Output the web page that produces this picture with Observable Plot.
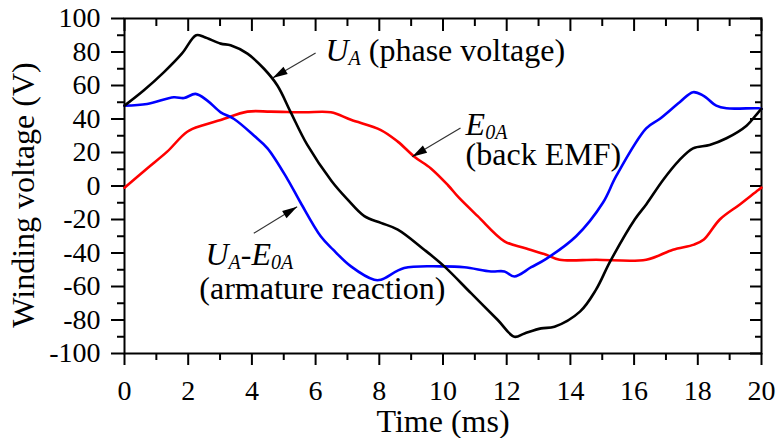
<!DOCTYPE html>
<html><head><meta charset="utf-8">
<script src="https://cdn.jsdelivr.net/npm/d3@7"></script>
<script src="https://cdn.jsdelivr.net/npm/@observablehq/plot@0.6"></script>
<style>
html,body{margin:0;padding:0;background:#fff}
svg{display:block}
</style>
</head><body><div id="chart"></div>
<script>
// ---- data ----
const timeUA = [0, 0.6, 1.24, 1.8, 2.25, 2.5, 3.02, 3.33, 3.86, 4.38, 4.8, 5.22, 5.74, 6.5, 7.0, 7.53, 8.05, 8.58, 9.41, 10.04, 10.88, 11.72, 12.24, 12.56, 13.08, 13.5, 14.3, 14.8, 15.25, 16.02, 16.38, 16.91, 17.4, 17.85, 18.37, 18.9, 19.53, 19.9, 20];
const voltUA = [48, 57, 68, 79, 90, 89, 85, 84, 79, 70, 60, 44, 24.5, 3, -8, -18, -22, -26, -38, -48, -64, -80, -90, -88, -85, -84, -75, -62, -45, -20, -11, 3.6, 15, 22.5, 24.5, 28.5, 36, 44, 46];

const timeDiff = [0, 0.71, 1.55, 1.87, 2.23, 2.6, 3.02, 3.44, 4.07, 4.49, 5.12, 5.53, 6.16, 6.55, 7.11, 7.84, 8.05, 8.78, 9.94, 10.67, 11.51, 11.93, 12.24, 12.77, 13.24, 14.18, 15.02, 15.44, 16.38, 16.8, 17.43, 17.85, 18.17, 18.58, 18.9, 19.9, 20];
const voltDiff = [48, 49, 53, 52.5, 55, 51, 44, 40, 30, 22.5, 4, -10, -30, -38, -48, -56, -56, -49, -48, -48.5, -51, -51, -54, -48.5, -43.5, -30, -10, 6, 34.4, 40, 50, 56, 54, 48, 46.4, 46.4, 46];

const timeEMF = [0, 0.71, 1.34, 1.97, 2.49, 3.02, 3.86, 4.59, 5.64, 6.48, 7.11, 8.05, 8.58, 9.1, 9.62, 10.15, 10.5, 11.09, 11.93, 12.56, 13.24, 13.66, 14.81, 16.38, 17.22, 17.88, 18.19, 18.69, 19.32, 19.9, 20];
const voltEMF = [-1, 10.5, 20.5, 32.4, 36.4, 39.4, 44.4, 44.4, 44, 44, 39.5, 33.4, 26.5, 17.5, 10.5, 0.6, -7, -18, -33, -37, -41, -44, -44, -44, -38, -35, -32, -20, -11, -2.4, -1];

const xMajorTicks = [0, 2, 4, 6, 8, 10, 12, 14, 16, 18, 20];
const xMinorTicks = [1, 3, 5, 7, 9, 11, 13, 15, 17, 19];
const yMajorTicks = [-100, -80, -60, -40, -20, 0, 20, 40, 60, 80, 100];
const yMinorTicks = [-90, -70, -50, -30, -10, 10, 30, 50, 70, 90];

const labelTexts = ["U_A (phase voltage)", "E_0A", "(back EMF)", "U_A-E_0A", "(armature reaction)"];
const labelTime = [6.31, 10.71, 10.71, 2.54, 2.35];
const labelVolt = [81, 36.4, 18.5, -41.2, -61.2];

const arrowFromT = [6.0, 10.55, 4.06];
const arrowFromV = [79.4, 34.6, -28.2];
const arrowToT = [4.65, 9.03, 5.42];
const arrowToV = [64.5, 17.5, -12.4];

// ---- build ----
const serif = "'Liberation Serif', 'Times New Roman', 'DejaVu Serif', serif";
const W = 778, H = 438, mL = 124, mR = 17, mT = 18, mB = 85;
const xs = d3.scaleLinear([0, 20], [mL, W - mR]);
const ys = d3.scaleLinear([-100, 100], [H - mB, mT]);

const series = (t, v) => t.map((d, i) => ({t: d, v: v[i]}));
const arrows = arrowFromT.map((d, i) => ({x1: d, y1: arrowFromV[i], x2: arrowToT[i], y2: arrowToV[i]}));
const arrowAngle = arrows.map(a => {
  const dx = xs(a.x2) - xs(a.x1), dy = ys(a.y2) - ys(a.y1);
  return Math.atan2(dx, -dy) * 180 / Math.PI;
});
const headSymbol = {draw(ctx) { ctx.moveTo(0, 0); ctx.lineTo(-4.2, 15); ctx.lineTo(4.2, 15); ctx.closePath(); }};
const labels = labelTexts.map((s, i) => ({s, t: labelTime[i], v: labelVolt[i]}));
const fmt = d => String(d);
const tickOnly = {tickFormat: null, fill: "none", label: null, strokeWidth: 2};

const chart = Plot.plot({
  width: W, height: H,
  marginLeft: mL, marginRight: mR, marginTop: mT, marginBottom: mB,
  style: {fontFamily: serif, fontSize: "28px", color: "#000", background: "#fff", overflow: "visible"},
  x: {domain: [0, 20]},
  y: {domain: [-100, 100]},
  marks: [
    Plot.axisX(xMajorTicks, {anchor: "bottom", tickSize: 12, tickPadding: 15, tickFormat: fmt, label: null, strokeWidth: 2, fontSize: 28}),
    Plot.axisX(xMinorTicks, {anchor: "bottom", tickSize: 7, ...tickOnly}),
    Plot.axisX(xMajorTicks, {anchor: "top", tickSize: -12, ...tickOnly}),
    Plot.axisX(xMinorTicks, {anchor: "top", tickSize: -7, ...tickOnly}),
    Plot.axisY(yMajorTicks, {anchor: "left", tickSize: 13, tickPadding: 11, tickFormat: fmt, label: null, strokeWidth: 2, fontSize: 28}),
    Plot.axisY(yMinorTicks, {anchor: "left", tickSize: 7, ...tickOnly}),
    Plot.axisY(yMajorTicks, {anchor: "right", tickSize: -12, ...tickOnly}),
    Plot.axisY(yMinorTicks, {anchor: "right", tickSize: -7, ...tickOnly}),
    Plot.frame({stroke: "#000", strokeWidth: 2}),
    Plot.line(series(timeEMF, voltEMF), {x: "t", y: "v", stroke: "#ff0000", strokeWidth: 2.6, curve: "catmull-rom"}),
    Plot.line(series(timeDiff, voltDiff), {x: "t", y: "v", stroke: "#0000ff", strokeWidth: 2.6, curve: "catmull-rom"}),
    Plot.line(series(timeUA, voltUA), {x: "t", y: "v", stroke: "#000", strokeWidth: 2.6, curve: "catmull-rom"}),
    Plot.link(arrows, {x1: "x1", y1: "y1", x2: "x2", y2: "y2", stroke: "#333", strokeWidth: 1.2}),
    Plot.dot(arrows, {x: "x2", y: "y2", symbol: headSymbol, fill: "#000", stroke: null, rotate: (d, i) => arrowAngle[i]}),
    Plot.text(labels, {x: "t", y: "v", text: "s", textAnchor: "start", lineAnchor: "middle", fontSize: 32, fill: "#000"}),
    Plot.text(["Time (ms)"], {frameAnchor: "bottom", textAnchor: "middle", lineAnchor: "middle", dy: 68, fontSize: 32, fill: "#000"}),
    Plot.text(["Winding voltage (V)"], {frameAnchor: "left", textAnchor: "middle", lineAnchor: "middle", dx: -101, dy: 9, rotate: -90, fontSize: 32, fill: "#000"})
  ]
});

// rich text: italic letters with subscripts
const esc = s => s.replace(/&/g, "&amp;").replace(/</g, "&lt;");
chart.querySelectorAll("text").forEach(el => {
  const s = el.textContent;
  if (!s.includes("_")) return;
  const re = /([A-Z])_([0-9A-Z]+)/g;
  let out = "", last = 0, shifted = false, m;
  while ((m = re.exec(s))) {
    if (m.index > last) { out += `<tspan${shifted ? ' dy="-4"' : ""}>${esc(s.slice(last, m.index))}</tspan>`; shifted = false; }
    out += `<tspan font-style="italic"${shifted ? ' dy="-4"' : ""}>${m[1]}</tspan>`;
    out += `<tspan font-style="italic" font-size="20" dy="4">${m[2]}</tspan>`;
    shifted = true;
    last = re.lastIndex;
  }
  if (last < s.length) out += `<tspan${shifted ? ' dy="-4"' : ""}>${esc(s.slice(last))}</tspan>`;
  el.innerHTML = out;
});
document.getElementById("chart").appendChild(chart);
</script>
</body></html>
